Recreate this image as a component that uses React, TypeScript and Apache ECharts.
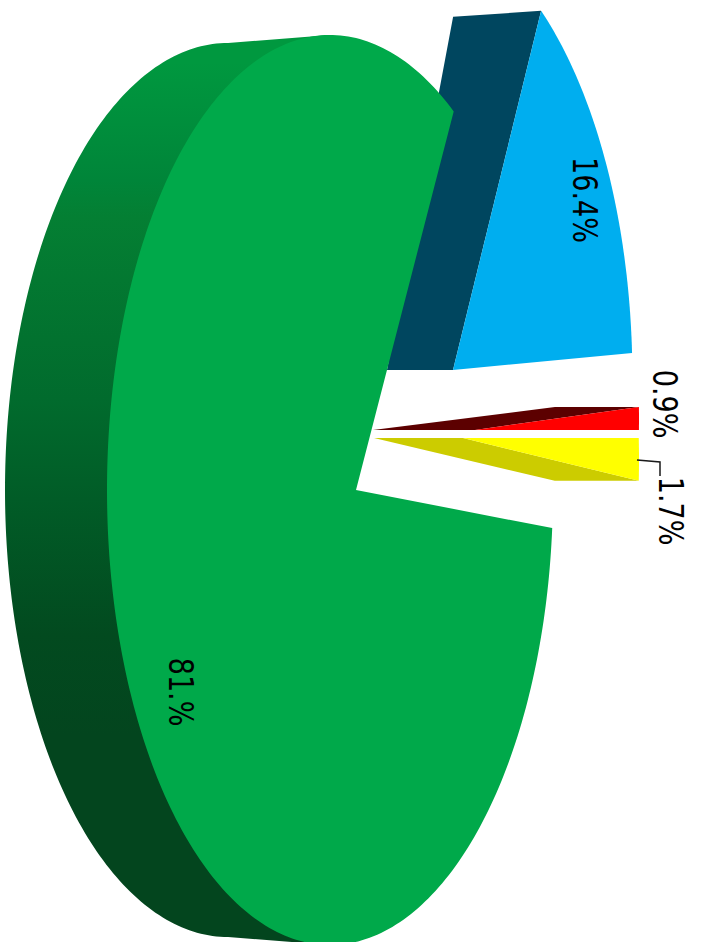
import React, { useEffect, useRef } from "react";
import * as echarts from "echarts";

const sliceLabels = ["16.4%", "0.9%", "1.7%", "81.%"];
const sliceValues = [16.4, 0.9, 1.7, 81];
const total = sliceValues.reduce((a, b) => a + b, 0);

const frontColors = ["#00AEEF", "#FF0000", "#FFFF00", "#00A94A"];
const wallColors = ["#00465F", "#5C0000", "#CCCC00", "#03451E"];

const LAYOUT = [
  { cx: 409.4, cy: 378, a: 223, b: 455, start: -53.8, stretch: 0.858, apex: [453, 370], backApex: [387, 370], outerShift: [-88, 6], wallEnd: false, label: [584.5, 200] },
  { cx: 416, cy: 418.5, a: 223, b: 455, start: -1.45, stretch: 0.895, apex: [475, 430], backApex: [373, 430], outerShift: [-84, 0], wallEnd: false, label: [664, 404] },
  { cx: 416, cy: 459.5, a: 223, b: 455, start: -2.7, stretch: 0.88, apex: [463, 438], backApex: [374, 438], outerShift: [-84, 0], wallEnd: true, label: [670, 511] },
  { cx: 330, cy: 490, a: 223, b: 455, start: 4.8, stretch: 1.025, apex: [356, 490], backApex: [254, 490], back: { cx: 228, cy: 490, a: 223, b: 447 }, label: [180, 692] },
];

const arcPoints = (e: any, startDeg: number, sweepDeg: number) => {
  const pts: number[][] = [];
  const n = Math.max(2, Math.ceil(Math.abs(sweepDeg)));
  for (let i = 0; i <= n; i++) {
    const t = ((startDeg + (sweepDeg * i) / n) * Math.PI) / 180;
    pts.push([e.cx + e.a * Math.cos(t), e.cy + e.b * Math.sin(t)]);
  }
  return pts;
};

const renderSlice = (params: any, api: any) => {
  const i = params.dataIndex;
  const value = api.value(0);
  const l: any = LAYOUT[i];
  const sweep = (value / total) * 360 * l.stretch;
  const arc = arcPoints(l, l.start, sweep);
  const children: any[] = [];
  if (l.back) {
    // Visible outer wall: back rim from bottom round to top, then straight across to the front rim.
    const backRim = arcPoints(l.back, 90, 180);
    children.push({
      type: "polygon",
      shape: { points: [...backRim, [l.cx, l.cy - l.b], [l.cx, l.cy + l.b]] },
      style: {
        fill: new echarts.graphic.LinearGradient(0, 0, 0, 1, [
          { offset: 0.03, color: "#00983F" },
          { offset: 0.16, color: "#008539" },
          { offset: 0.2, color: "#047F33" },
          { offset: 0.4, color: "#016B2D" },
          { offset: 0.51, color: "#015C27" },
          { offset: 0.66, color: "#024A1F" },
          { offset: 0.77, color: "#03451E" },
          { offset: 1, color: "#03451E" },
        ]),
      },
    });
  } else {
    const outer = l.wallEnd ? arc[arc.length - 1] : arc[0];
    children.push({
      type: "polygon",
      shape: {
        points: [l.apex, l.backApex, [outer[0] + l.outerShift[0], outer[1] + l.outerShift[1]], outer],
      },
      style: { fill: wallColors[i] },
    });
  }
  children.push({
    type: "polygon",
    shape: { points: [l.apex, ...arc] },
    style: { fill: frontColors[i] },
  });
  children.push({
    type: "text",
    x: l.label[0],
    y: l.label[1],
    rotation: -Math.PI / 2,
    scaleY: 1.22,
    style: {
      text: sliceLabels[i],
      fill: "#000000",
      font: "27px 'DejaVu Sans'",
      textAlign: "center",
      textVerticalAlign: "middle",
    },
  });
  return { type: "group", children };
};

export default function App() {
  const ref = useRef<HTMLDivElement>(null);
  useEffect(() => {
    document.body.style.margin = "0";
    const chart = echarts.init(ref.current as HTMLDivElement, undefined, { renderer: "svg" });
    chart.setOption({
      animation: false,
      backgroundColor: "#ffffff",
      series: [
        {
          type: "custom",
          coordinateSystem: "none",
          silent: true,
          clip: false,
          data: sliceValues.map((v) => [v]),
          renderItem: renderSlice,
        },
      ],
      graphic: [
        {
          type: "polyline",
          shape: { points: [[637, 460], [660, 462], [660, 476]] },
          style: { stroke: "#1a1a1a", lineWidth: 1.5, fill: "none" },
          z: 10,
        },
      ],
    });
    return () => chart.dispose();
  }, []);
  return <div ref={ref} style={{ width: 702, height: 942 }} />;
}
